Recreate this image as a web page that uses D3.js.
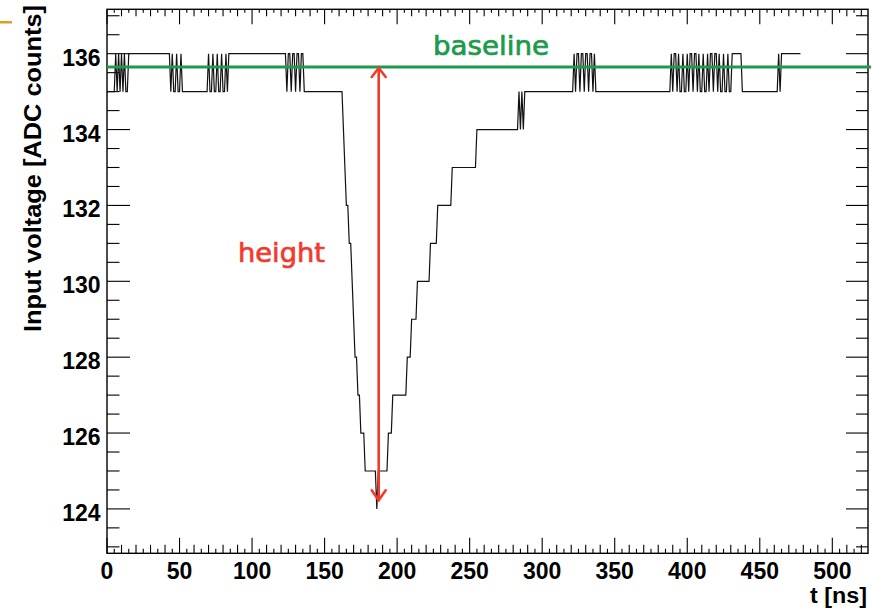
<!DOCTYPE html>
<html>
<head>
<meta charset="utf-8">
<script src="https://cdn.jsdelivr.net/npm/d3@7"></script>
<style>
  html, body { margin: 0; padding: 0; background: #fff; }
  svg { display: block; }
</style>
</head>
<body>
<svg id="chart" width="872" height="610"></svg>
<script>
// ADC waveform: each entry starts a new sample level (t in ns, value in ADC counts)
const changeTimes = [
  0, 6, 7, 8, 9, 10, 11, 12, 13, 15,
  44, 45, 46, 48, 49, 51, 52,
  70, 71, 73, 74, 76, 77, 79, 80, 82, 83, 84,
  124, 125, 127, 128, 130, 131, 133, 134, 136,
  163, 164, 165, 167, 169, 170, 171, 173, 175, 178, 186, 187,
  194, 197, 207, 210, 214, 223, 228, 238, 255, 284, 285, 286, 287, 288,
  322, 323, 324, 326, 327, 329, 330, 332, 333, 335, 336, 337,
  389, 390, 391, 393, 394, 395, 397, 398, 400, 401, 402, 404, 405, 407, 408,
  409, 411, 412, 414, 415, 416, 418, 419, 421, 422, 423, 425, 426, 428, 429, 431,
  438, 463, 464, 465
];
const changeValues = [
  135, 136, 135, 136, 135, 136, 135, 136, 135, 136,
  135, 136, 135, 136, 135, 136, 135,
  136, 135, 136, 135, 136, 135, 136, 135, 136, 135, 136,
  135, 136, 135, 136, 135, 136, 135, 136, 135,
  134, 133, 132, 131, 130, 129, 128, 127, 126, 125, 124, 125,
  126, 127, 128, 129, 130, 131, 132, 133, 134, 135, 134, 135, 134, 135,
  136, 135, 136, 135, 136, 135, 136, 135, 136, 135, 136, 135,
  136, 135, 136, 135, 136, 135, 136, 135, 136, 135, 136, 135, 136, 135, 136,
  135, 136, 135, 136, 135, 136, 135, 136, 135, 136, 135, 136, 135, 136, 135, 136,
  135, 136, 135, 136
];
const traceEnd = 478;          // last sample time, ns
const sampleStep = 1;          // ns between samples

const baselineValue = 135.65;  // fitted baseline, ADC counts
const arrowTime = 187.3;       // where the height arrow is drawn, ns
const arrowBottom = 124.2;     // lower end of the height arrow, ADC counts

const xTickLabels = [0, 50, 100, 150, 200, 250, 300, 350, 400, 450, 500];
const yTickLabels = [124, 126, 128, 130, 132, 134, 136];
const xDomain = [0, 524.6];
const yDomain = [122.83, 137.17];

const svg = d3.select("#chart");
const plotL = 107, plotR = 868, plotT = 9.3, plotB = 553.3;

const x = d3.scaleLinear().domain(xDomain).range([plotL, plotR]);
const y = d3.scaleLinear().domain(yDomain).range([plotB, plotT]);

const tickFont = "'Liberation Sans', Arial, Helvetica, sans-serif";

// tick marks on all four sides
const g = svg.append("g").attr("stroke", "#000").attr("stroke-width", 1.1);
const xMinor = d3.range(0, 525, 5);
xMinor.forEach(t => {
  const len = t % 50 === 0 ? 15.5 : (t % 10 === 0 ? 8.5 : 4.5);
  const lenTop = t % 50 === 0 ? 15 : (t % 10 === 0 ? 7 : 3.5);
  const px = x(t);
  g.append("line").attr("x1", px).attr("x2", px).attr("y1", plotB).attr("y2", plotB - len);
  g.append("line").attr("x1", px).attr("x2", px).attr("y1", plotT).attr("y2", plotT + lenTop);
});
const yMinor = d3.range(123, 137.01, 0.5);
yMinor.forEach(v => {
  const major = yTickLabels.includes(v);
  const len = major ? 23 : 12.5;
  const py = y(v);
  g.append("line").attr("x1", plotL).attr("x2", plotL + len).attr("y1", py).attr("y2", py);
  g.append("line").attr("x1", plotR).attr("x2", plotR - (major ? 22 : 12)).attr("y1", py).attr("y2", py);
});

// waveform: hold each level until one step before the next change
const points = [];
changeTimes.forEach((t, i) => {
  const v = changeValues[i];
  points.push([t, v]);
  const holdEnd = i + 1 < changeTimes.length ? changeTimes[i + 1] - sampleStep : traceEnd;
  if (holdEnd > t) points.push([holdEnd, v]);
});
const line = d3.line().x(d => x(d[0])).y(d => y(d[1]));
svg.append("path")
  .attr("d", line(points))
  .attr("fill", "none")
  .attr("stroke", "#111")
  .attr("stroke-width", 1.2)
  .attr("stroke-linejoin", "miter");

// frame
svg.append("rect")
  .attr("x", plotL).attr("y", plotT)
  .attr("width", plotR - plotL).attr("height", plotB - plotT)
  .attr("fill", "none").attr("stroke", "#000").attr("stroke-width", 1.4);

// baseline
const green = "#1d9a4b";
svg.append("line")
  .attr("x1", x(xDomain[0])).attr("x2", x(xDomain[1]) + 3)
  .attr("y1", y(baselineValue)).attr("y2", y(baselineValue))
  .attr("stroke", green).attr("stroke-width", 3);
svg.append("text")
  .attr("x", 433).attr("y", 55)
  .attr("font-family", "'DejaVu Sans', Verdana, sans-serif")
  .attr("font-size", 27)
  .attr("textLength", 116).attr("lengthAdjust", "spacingAndGlyphs")
  .attr("fill", green).attr("stroke", green).attr("stroke-width", 0.7)
  .text("baseline");

// pulse height arrow
const red = "#f23a2c";
const ax = x(arrowTime), ay1 = y(baselineValue), ay2 = y(arrowBottom);
const arrow = svg.append("g").attr("stroke", red).attr("stroke-width", 2.6).attr("fill", "none")
  .attr("stroke-linecap", "round").attr("stroke-linejoin", "round");
arrow.append("line").attr("x1", ax).attr("x2", ax).attr("y1", ay1 + 1).attr("y2", ay2 - 1);
arrow.append("path").attr("d", `M${ax - 7},${ay1 + 10} L${ax},${ay1 + 1} L${ax + 7},${ay1 + 10}`);
arrow.append("path").attr("d", `M${ax - 7},${ay2 - 11} L${ax},${ay2 - 1} L${ax + 7},${ay2 - 11}`);
svg.append("text")
  .attr("x", 238).attr("y", 261.5)
  .attr("font-family", "'DejaVu Sans', Verdana, sans-serif")
  .attr("font-size", 27)
  .attr("textLength", 87).attr("lengthAdjust", "spacingAndGlyphs")
  .attr("fill", red).attr("stroke", red).attr("stroke-width", 0.7)
  .text("height");

// tick labels
svg.append("g").selectAll("text").data(xTickLabels).join("text")
  .attr("x", d => x(d)).attr("y", 579)
  .attr("text-anchor", "middle")
  .attr("font-family", tickFont).attr("font-weight", "bold").attr("font-size", 23)
  .attr("fill", "#000")
  .text(d => d);
svg.append("g").selectAll("text").data(yTickLabels).join("text")
  .attr("x", 100.5).attr("y", d => y(d) + 12)
  .attr("text-anchor", "end")
  .attr("font-family", tickFont).attr("font-weight", "bold").attr("font-size", 23)
  .attr("fill", "#000")
  .text(d => d);

// axis titles
svg.append("text")
  .attr("x", 867).attr("y", 603)
  .attr("text-anchor", "end")
  .attr("font-family", tickFont).attr("font-weight", "bold").attr("font-size", 22)
  .attr("textLength", 57).attr("lengthAdjust", "spacingAndGlyphs")
  .text("t [ns]");
svg.append("text")
  .attr("transform", "translate(41,5) rotate(-90)")
  .attr("text-anchor", "end")
  .attr("font-family", tickFont).attr("font-weight", "bold").attr("font-size", 24.5)
  .attr("textLength", 327).attr("lengthAdjust", "spacingAndGlyphs")
  .text("Input voltage [ADC counts]");

// small accent mark at the top-left edge
svg.append("rect").attr("x", 0).attr("y", 21).attr("width", 12).attr("height", 2.5).attr("fill", "#d9a21b");
</script>
</body>
</html>
